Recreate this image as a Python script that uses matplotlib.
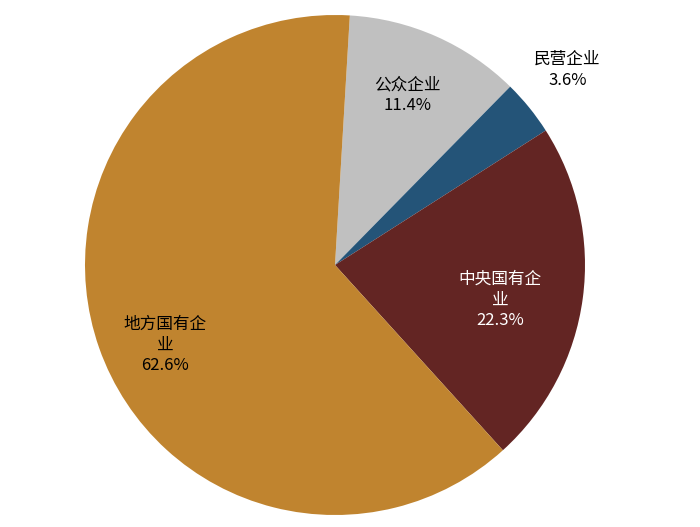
import matplotlib
matplotlib.use("Agg")
import matplotlib.pyplot as plt

plt.rcParams['font.family'] = ['Noto Sans CJK SC', 'DejaVu Sans']

categories = ['公众企业', '民营企业', '中央国有企业', '地方国有企业']
values = [11.4, 3.6, 22.3, 62.6]
labels = ['公众企业\n11.4%', '民营企业\n3.6%', '中央国有企业\n业\n22.3%', '地方国有企业\n业\n62.6%']
labels = ['公众企业\n11.4%', '民营企业\n3.6%', '中央国有企\n业\n22.3%', '地方国有企\n业\n62.6%']
colors = ['#C0C0C0', '#245478', '#632523', '#C0842F']
label_pos = [(0.29, 0.68), (0.93, 0.78), (0.66, -0.14), (-0.68, -0.32)]
label_colors = ['black', 'black', 'white', 'black']

fig = plt.figure(figsize=(7, 5.27), dpi=100)
ax = fig.add_axes([85/700, 12/527, 500/700, 500/527])
ax.pie(values, colors=colors, startangle=86.6, counterclock=False, radius=1.0)
for lab, (x, y), c in zip(labels, label_pos, label_colors):
    ax.text(x, y, lab, ha='center', va='center', fontsize=12, color=c, linespacing=1.3)
ax.set_xlim(-1, 1)
ax.set_ylim(-1, 1)
ax.set_aspect('equal')
ax.axis('off')
fig.savefig('out.png', dpi=100)
